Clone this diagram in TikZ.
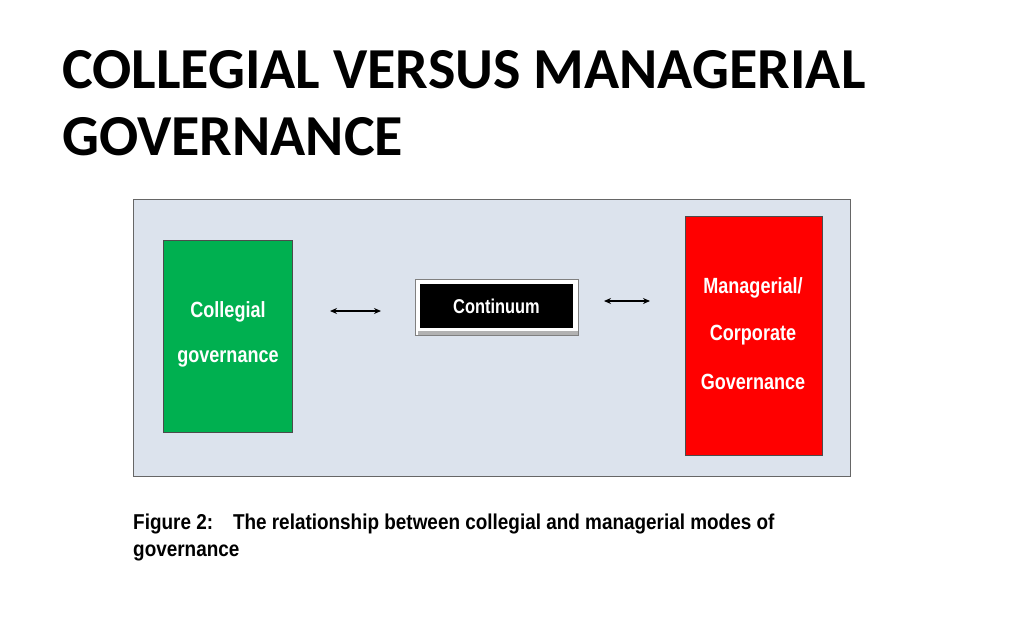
\documentclass[tikz,border=0pt]{standalone}
\usepackage{fontspec}
\usetikzlibrary{arrows.meta}
\setmainfont{Liberation Sans}
\newfontfamily\titlefont{Carlito}
\newfontfamily\narrowfont[FakeStretch=0.82]{Liberation Sans}
\newfontfamily\capfont[FakeStretch=0.88]{Liberation Sans}
\definecolor{panel}{HTML}{DCE3ED}
\definecolor{grn}{HTML}{00B050}
\begin{document}
\begin{tikzpicture}[x=1pt,y=-1pt,
  boxlbl/.style={text=white,font=\narrowfont\bfseries\fontsize{22}{26}\selectfont,align=center},
  darr/.style={<->,>={Stealth[length=7pt,width=6pt]},line width=1.3pt}]
\useasboundingbox[fill=white] (0,0) rectangle (1024,640);
\node[anchor=base west,font=\titlefont\bfseries\fontsize{58}{66}\selectfont,inner sep=0] (t1) at (62,88) {COLLEGIAL VERSUS MANAGERIAL};
\node[anchor=base west,font=\titlefont\bfseries\fontsize{58}{66}\selectfont,inner sep=0] (t2) at (62,155) {GOVERNANCE};
\draw[fill=panel,draw=gray!80!black] (133,199) rectangle (850,476);
\draw[fill=grn,draw=black!70] (163,240) rectangle (292,432);
\node[boxlbl] (c1) at (228,312) {Collegial};
\node[boxlbl] (c2) at (228,359) {governance};
\draw[fill=red,draw=black!70] (685,216) rectangle (822,455);
\node[boxlbl] (m1) at (753,288) {Managerial/};
\node[boxlbl] (m2) at (753,335) {Corporate};
\node[boxlbl] (m3) at (753,382) {Governance};
\draw[fill=white,draw=gray] (415,279) rectangle (578,335);
\fill[gray!60] (418,331) rectangle (578,335);
\node[fill=black,minimum width=153pt,minimum height=44pt,inner sep=0] (cont) at (496.5,306) {};
\node[boxlbl,font=\narrowfont\bfseries\fontsize{20}{24}\selectfont] at (cont) {Continuum};
\coordinate (a1) at (330,311); \coordinate (a2) at (381,311);
\coordinate (b1) at (604,301); \coordinate (b2) at (650,301);
\draw[darr] (a1) -- (a2);
\draw[darr] (b1) -- (b2);
\node[anchor=base west,inner sep=0,font=\capfont\bfseries\fontsize{21.5}{24}\selectfont] (cap1) at (133,529) {Figure 2:\hspace{0.6em} The relationship between collegial and managerial modes of};
\node[anchor=base west,inner sep=0,font=\capfont\bfseries\fontsize{21.5}{24}\selectfont] (cap2) at (133,556) {governance};
\end{tikzpicture}
\end{document}
